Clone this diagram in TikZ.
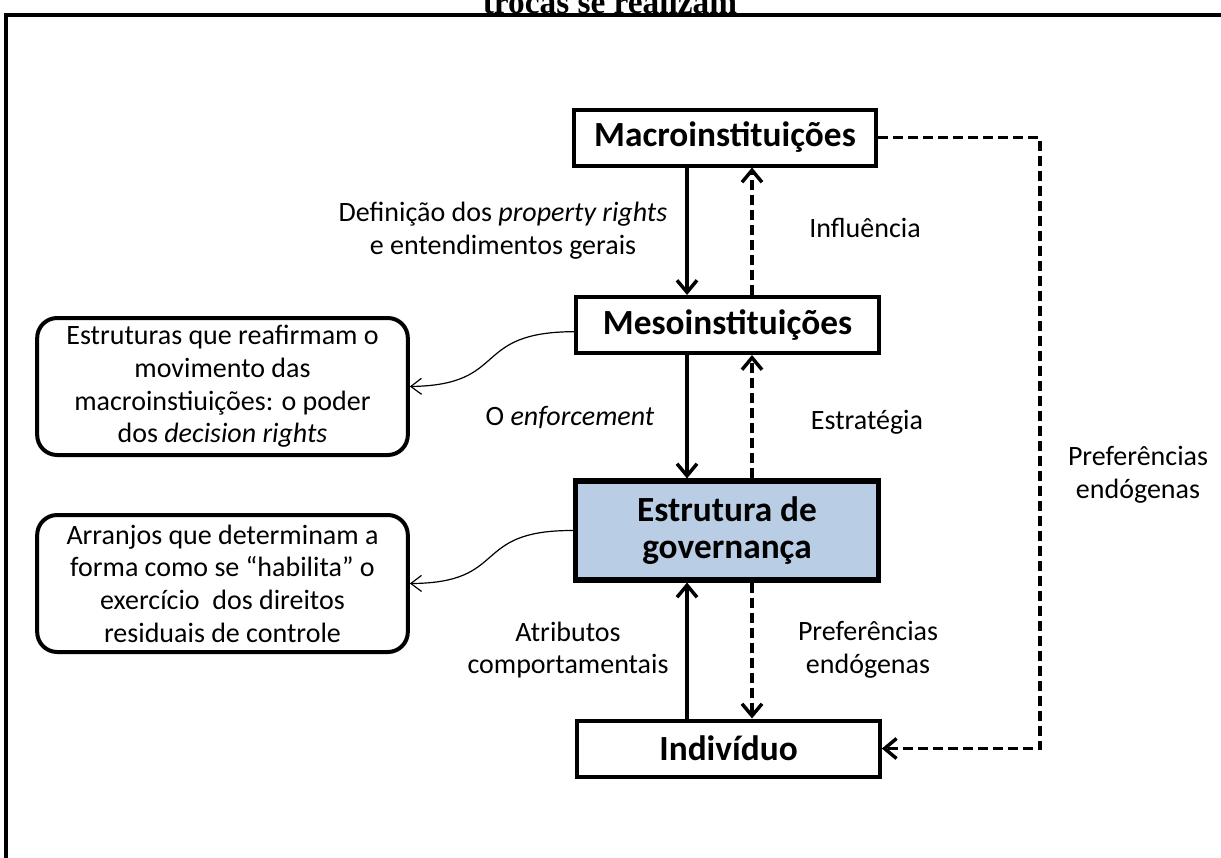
\documentclass[tikz,border=0pt]{standalone}
\usepackage{fontspec}
\setmainfont{Carlito}
\newfontfamily\titlefont{Liberation Serif}
\usetikzlibrary{arrows.meta}
\definecolor{govblue}{RGB}{185,205,229}

\begin{document}
\begin{tikzpicture}[x=0.75pt, y=-0.75pt,
  every node/.style={font=\fontsize{21}{24.5}\selectfont, align=center, inner sep=0pt},
  mainbox/.style={rectangle, draw, line width=3pt, fill=white, minimum width=227pt, minimum height=42pt, font=\fontsize{26.5}{27.7}\selectfont\bfseries},
  notebox/.style={rectangle, rounded corners=15pt, draw, line width=3pt, minimum width=278pt, minimum height=102.75pt},
  flow/.style={line width=2.6pt, -{Straight Barb[length=9pt, width=15pt]}},
  backflow/.style={flow, dash pattern=on 7.5pt off 3.75pt},
  notelink/.style={line width=0.9pt, -{Straight Barb[length=8pt, width=12pt]}}]
  \useasboundingbox (0,0) rectangle (1221,857);

  \draw[line width=2.5pt] (1240,15) -- (6,15) -- (6,880);
  \node[font=\titlefont\bfseries\fontsize{25}{28}\selectfont, anchor=base] (title) at (610,13.5) {trocas se realizam};

  \node[mainbox] (macro) at (725,137.5) {Macroinstituições};
  \node[mainbox] (meso) at (727.5,325) {Mesoinstituições};
  \node[mainbox, fill=govblue, line width=3.8pt, minimum height=74.25pt] (gov) at (727,530.5) {Estrutura de\\governança};
  \node[mainbox] (indiv) at (728.5,748.5) {Indivíduo};

  \node[notebox] (note1) at (222.5,386.5) {Estruturas que reafirmam o\\movimento das\\macroinstiuições: o poder\\dos \textit{decision rights}};
  \node[notebox] (note2) at (222.5,583.5) {Arranjos que determinam a\\forma como se “habilita” o\\exercício~ dos direitos\\residuais de controle};

  \node (lbl1) at (503,231) {Definição dos \textit{property rights}\\e entendimentos gerais};
  \node (lbl2) at (865,228) {Influência};
  \node (lbl3) at (570,418) {O \textit{enforcement}};
  \node (lbl4) at (867,422) {Estratégia};
  \node (lbl5) at (568,650) {Atributos\\comportamentais};
  \node (lbl6) at (868,650) {Preferências\\endógenas};
  \node (lbl7) at (1138,475) {Preferências\\endógenas};

  \coordinate (solidx) at (687,0);
  \coordinate (dashx) at (752,0);
  \coordinate (loopx) at (1040,0);

  \draw[flow] (macro.south -| solidx) -- (meso.north -| solidx);
  \draw[backflow] (meso.north -| dashx) -- (macro.south -| dashx);
  \draw[flow] (meso.south -| solidx) -- (gov.north -| solidx);
  \draw[backflow] (gov.north -| dashx) -- (meso.south -| dashx);
  \draw[flow] (indiv.north -| solidx) -- (gov.south -| solidx);
  \draw[backflow] (gov.south -| dashx) -- (indiv.north -| dashx);
  \draw[backflow] (macro.east) -| (loopx |- indiv.east) -- (indiv.east);

  \draw[notelink] ([yshift=-5pt]meso.west) .. controls (470,332) and (510,385) .. (note1.east);
  \draw[notelink] (gov.west) .. controls (470,530) and (510,583) .. (note2.east);
\end{tikzpicture}
\end{document}
